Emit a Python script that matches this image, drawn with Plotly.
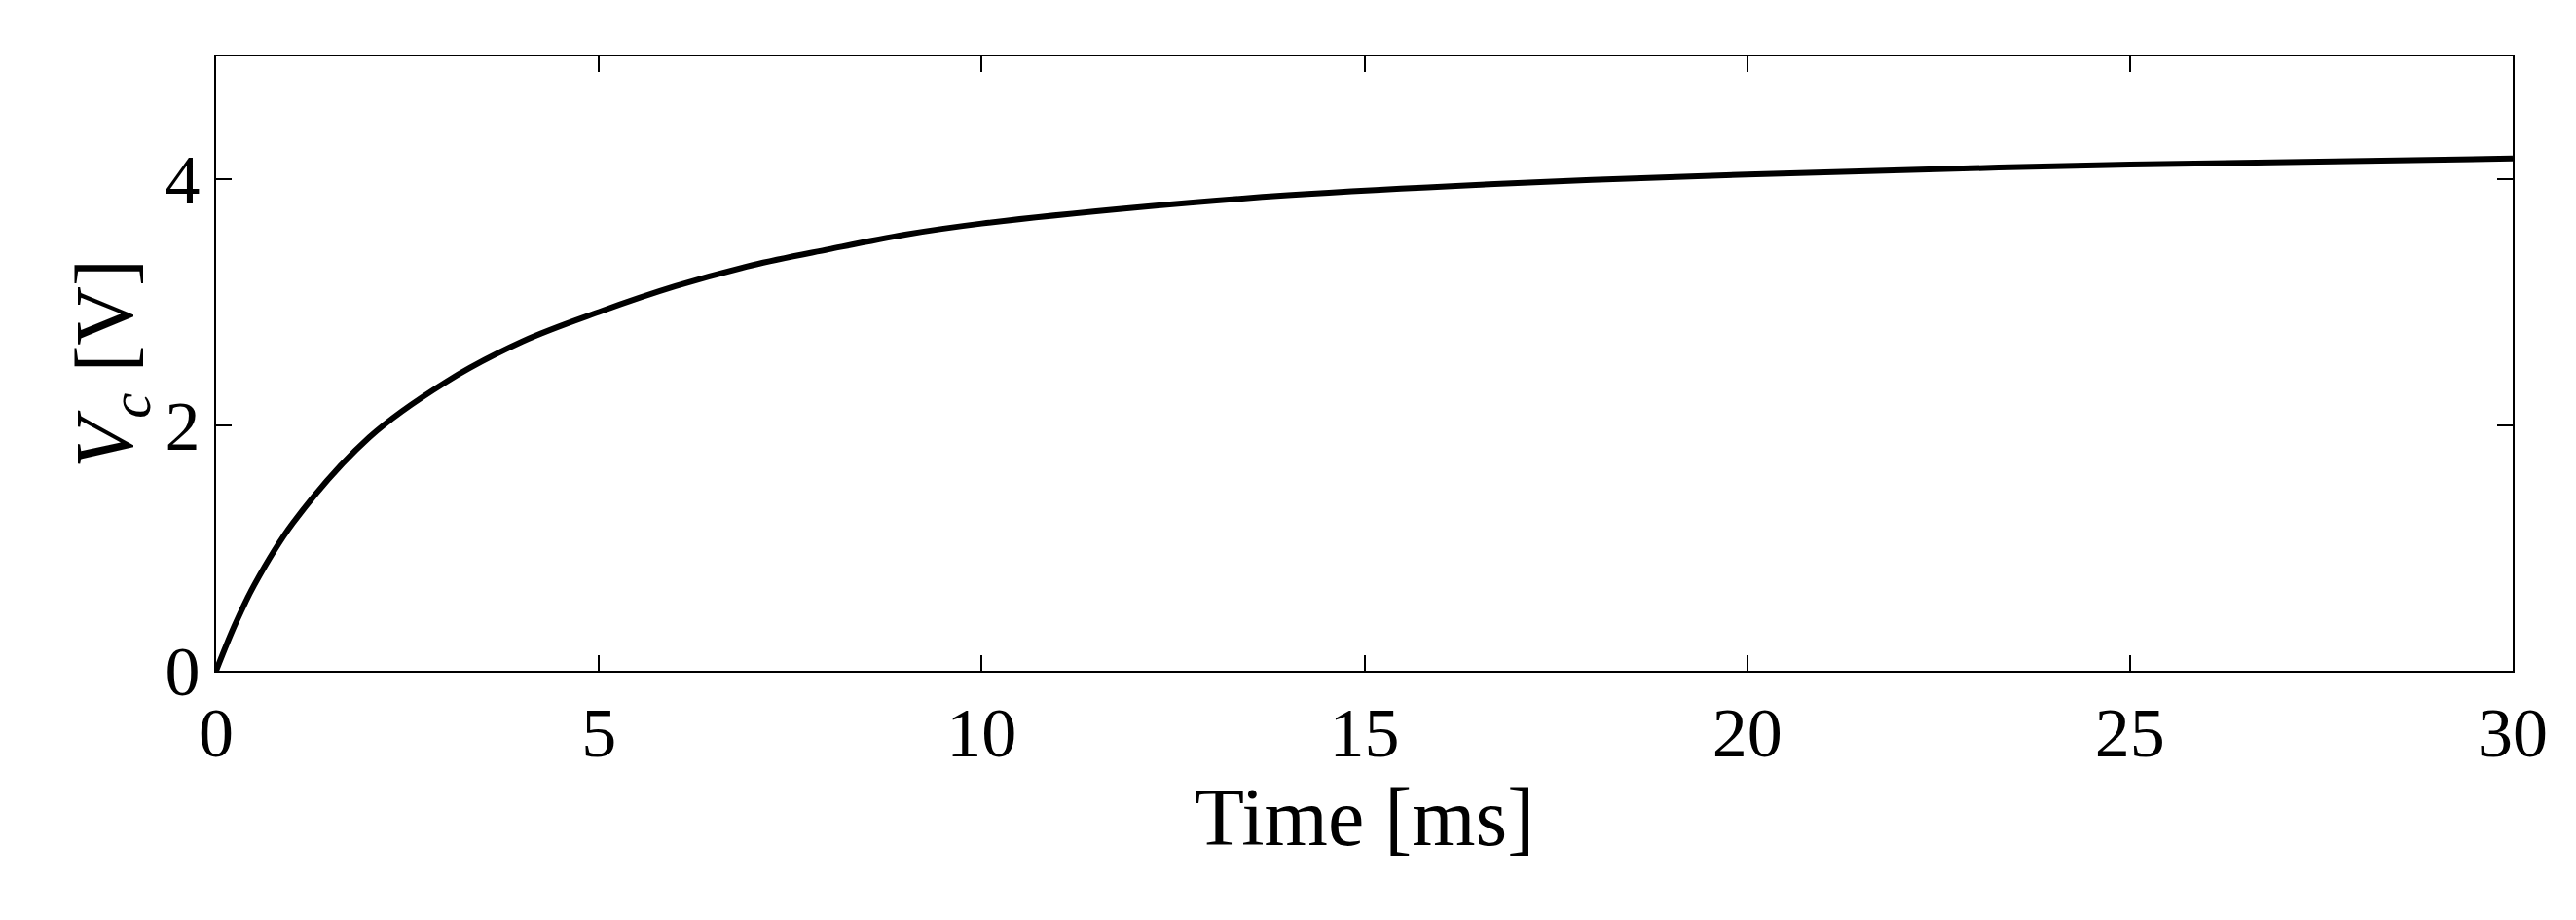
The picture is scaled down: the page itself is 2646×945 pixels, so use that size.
import plotly.graph_objects as go

time_ms = [0, 0.25, 0.5, 1, 2, 3, 4, 5, 6, 7, 8, 9, 10, 12, 14, 17, 20, 25, 30]
vc = [0, 0.38, 0.7, 1.2, 1.9, 2.35, 2.68, 2.92, 3.13, 3.3, 3.43, 3.55, 3.64, 3.77, 3.87, 3.97, 4.04, 4.12, 4.17]
xticks = [0, 5, 10, 15, 20, 25, 30]
yticks = [0, 2, 4]

fig = go.Figure(go.Scatter(x=time_ms, y=vc, mode="lines", line=dict(color="black", width=6, shape="spline")))
font = "Liberation Serif, DejaVu Serif, serif"
ax = dict(showgrid=False, zeroline=False, showline=True, linecolor="black", linewidth=2, mirror="ticks",
          ticks="inside", ticklen=16, tickwidth=2, tickcolor="black", tickfont=dict(size=72, family=font, color="black"))
fig.update_xaxes(range=[0, 30], tickvals=xticks, title=dict(text="Time [ms]", font=dict(size=84, family=font, color="black"), standoff=5), **ax)
fig.update_yaxes(range=[0, 5], tickvals=yticks, title=dict(text="<i>V<sub>c</sub></i> [V]", font=dict(size=84, family=font, color="black"), standoff=5), **ax)
fig.update_layout(width=2646, height=945, plot_bgcolor="white", paper_bgcolor="white", showlegend=False,
                  margin=dict(l=214, r=73, t=50, b=264))
fig.write_html("out.html")
